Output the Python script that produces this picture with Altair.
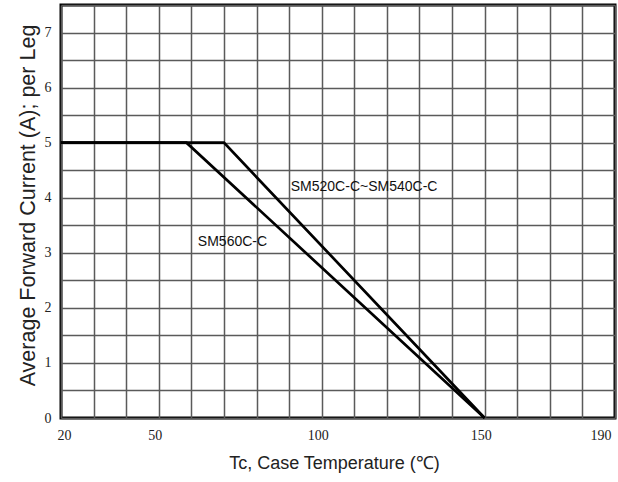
import altair as alt
import pandas as pd

# Derating curves (Tc in °C, current in A)
series = ["SM520C-C~SM540C-C"] * 3 + ["SM560C-C"] * 3
temps = [20, 70, 150, 20, 58.5, 150]
currents = [5, 5, 0, 5, 5, 0]

# Curve annotations
label_text = ["SM520C-C~SM540C-C", "SM560C-C"]
label_x = [90.5, 62]
label_y = [4.2, 3.2]

x_grid = list(range(20, 191, 10))
x_labels = [20, 50, 100, 150, 190]
y_grid = [i * 0.5 for i in range(0, 16)]

df = pd.DataFrame({"series": series, "temp": temps, "current": currents})
lab = pd.DataFrame({"text": label_text, "temp": label_x, "current": label_y})

xscale = alt.Scale(domain=[20, 190], nice=False, zero=False)
yscale = alt.Scale(domain=[0, 7.5], nice=False)

xenc = alt.X("temp:Q", scale=xscale,
             axis=alt.Axis(values=x_grid, title="Tc, Case Temperature (\u2103)",
                           labelExpr="indexof([20,50,100,150,190], datum.value) >= 0 ? datum.label : ''",
                           labelOverlap=False,
                           ticks=False, domain=False, grid=True, gridColor="#5a5a5a",
                           gridWidth=1.5, labelFont="Liberation Serif", labelFontSize=14,
                           labelColor="#222", labelPadding=10, labelOffset=-4,
                           titleFont="Liberation Sans", titleFontSize=18, titleFontWeight="normal",
                           titleColor="#222", titlePadding=12, titleX=273))
yenc = alt.Y("current:Q", scale=yscale,
             axis=alt.Axis(values=y_grid, title="Average Forward Current (A); per Leg",
                           labelExpr="datum.value % 1 == 0 ? format(datum.value, 'd') : ''",
                           labelOverlap=False,
                           ticks=False, domain=False, grid=True, gridColor="#5a5a5a",
                           gridWidth=1.5, labelFont="Liberation Serif", labelFontSize=14,
                           labelColor="#222", labelPadding=10,
                           titleFont="Liberation Sans", titleFontSize=21.5, titleFontWeight="normal",
                           titleColor="#222", titlePadding=5, titleY=200))

lines = alt.Chart(df).mark_line(strokeWidth=2.7, color="black").encode(
    x=xenc, y=yenc, detail="series:N",
)

texts = alt.Chart(lab).mark_text(align="left", baseline="middle", font="Liberation Sans",
                                 fontSize=14, color="#111").encode(
    x=xenc, y=yenc, text="text:N",
)

chart = alt.layer(lines, texts).properties(
    width=554, height=413,
    background="white",
    autosize=alt.AutoSizeParams(type="none"),
    padding={"left": 61, "top": 5, "right": 3, "bottom": 64},
).configure_view(stroke="black", strokeWidth=3)

chart.save("out.html", embed_options={"renderer": "svg", "actions": False})
